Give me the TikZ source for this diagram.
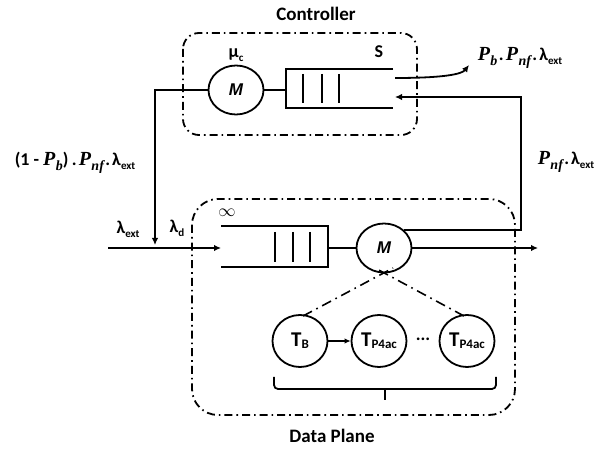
\documentclass[tikz,border=0pt]{standalone}
\usepackage{fontspec}
\setmainfont{Carlito}
\newfontfamily\mfont{Liberation Sans}
\newfontfamily\pfont{Liberation Serif}
\usetikzlibrary{arrows.meta,shapes.geometric}

% bold Greek letter with a small bold subscript
\newcommand\gsub[2]{\textbf{#1}\raisebox{-0.45ex}{\fontsize{11}{11}\selectfont\bfseries #2}}
\newcommand\tsub[2]{\textbf{#1}\raisebox{-0.45ex}{\fontsize{13}{13}\selectfont\bfseries #2}}
% bold italic probability symbol with subscript
\newcommand\prb[1]{{\pfont\bfseries\itshape\fontsize{20}{20}\selectfont P\kern0.5pt\raisebox{-0.5ex}{\fontsize{14}{14}\selectfont #1}}}
\newcommand\sep{\kern1.5pt\textbf{.}\kern2pt}

\begin{document}
\begin{tikzpicture}[x=1pt,y=-1pt,
  wire/.style={line width=1.8pt},
  flow/.style={line width=1.8pt,-{Latex[length=7pt,width=6.5pt]}},
  zone/.style={line width=1.8pt,dash pattern=on 8pt off 4pt on 1.6pt off 4pt},
  link/.style={line width=1.6pt,dash pattern=on 10pt off 5pt on 1.6pt off 5pt},
  server/.style={draw,ellipse,line width=1.8pt,minimum width=55pt,minimum height=49pt,inner sep=0pt},
  table/.style={draw,ellipse,line width=1.8pt,minimum width=55pt,minimum height=52pt,inner sep=0pt},
  title/.style={font=\fontsize{19}{21}\selectfont\bfseries},
  lbl/.style={font=\fontsize{18}{20}\selectfont, inner sep=0pt},
  mtext/.style={font=\mfont\fontsize{17}{17}\selectfont\bfseries\itshape}
]
\useasboundingbox (0,0) rectangle (598,449);

% ---------------- controller ----------------
\node[title] (ctitle) at (316,14) {Controller};
\draw[zone,rounded corners=16pt] (183,33) rectangle (417,135);

\node[server,mtext] (cM) at (236,90) {M};
\node[lbl] (mu) at (236,55) {\gsub{μ}{c}};
\node[lbl] (S) at (379,52) {\textbf{S}};

% controller queue (open towards the right)
\draw[wire] (393,69) -- (286,69) -- (286,108) -- (393,108);
\foreach \qx in {303,322,339} \draw[wire] (\qx,74) -- (\qx,103);
\coordinate (cqw) at (286,90);
\coordinate (cqin) at (395,97);
\coordinate (cqout) at (395,78);
\draw[wire] (cM.east) -- (cqw);

% ---------------- data plane ----------------
\node[title] (dtitle) at (332,436) {Data Plane};
\draw[zone,rounded corners=26pt] (192,199) rectangle (515,415);

% data-plane queue (open towards the left)
\draw[wire] (221,226) -- (328,226) -- (328,267) -- (221,267);
\foreach \qx in {275,293,310} \draw[wire] (\qx,232) -- (\qx,262);
\coordinate (dqe) at (328,248);
\coordinate (dqin) at (221,248);
\node[lbl] (inf) at (227,213) {$\infty$};

\node[server,mtext] (dM) at (384,248) {M};
\draw[wire] (dqe) -- (dM.west);

% flow tables
\node[table] (tB) at (300,341) {\tsub{\fontsize{21}{21}\selectfont T}{B}};
\node[table] (tA) at (379,341) {\tsub{\fontsize{21}{21}\selectfont T}{P4ac}};
\node[table] (tN) at (467,341) {\tsub{\fontsize{21}{21}\selectfont T}{P4ac}};
\node[lbl] (dots) at (423,339) {\textbf{...}};
\draw[line width=1.6pt,-{Latex[length=6pt,width=5.5pt]}] (tB) -- (tA);

\coordinate (xl) at (393,268);
\coordinate (xr) at (375,268);
\draw[link] (tB.north east) ++(-17,-6) -- (xl);
\draw[link] (tN.north west) ++(17,-6) -- (xr);

% brace under the tables
\draw[line width=1.8pt,rounded corners=4pt] (274,377) -- (274,389) -- (496,389) -- (496,377);
\draw[line width=1.8pt] (385,389) -- (385,400);

% ---------------- connectors ----------------
\coordinate (src) at (108,248);
\coordinate (feed) at (155,245);
\coordinate (rise) at (521,97);
\coordinate (out) at (538,248);
\coordinate (blk) at (469,65);

\draw[flow] (src) -- (dqin);
\draw[flow] (cM.west) -| (feed);
\draw[flow] (dM.north east) -| (rise) -- (cqin);
\draw[flow] (dM.east) -- (out);
\draw[flow] (cqout) .. controls (445,78) and (462,74) .. (blk);

% ---------------- rate labels ----------------
\node[lbl] (lext) at (128,229) {\gsub{λ}{ext}};
\node[lbl] (ld) at (177,228) {\gsub{λ}{d}};
\node[lbl] (back) at (75,163) {\textbf{(1 - }\prb{b}\textbf{)}\kern2pt\sep\prb{nf}\sep\gsub{λ}{ext}};
\node[lbl] (fwd) at (566,162) {\prb{nf}\sep\gsub{λ}{ext}};
\node[lbl] (drop) at (520,58) {\prb{b}\sep\prb{nf}\sep\gsub{λ}{ext}};
\end{tikzpicture}
\end{document}
